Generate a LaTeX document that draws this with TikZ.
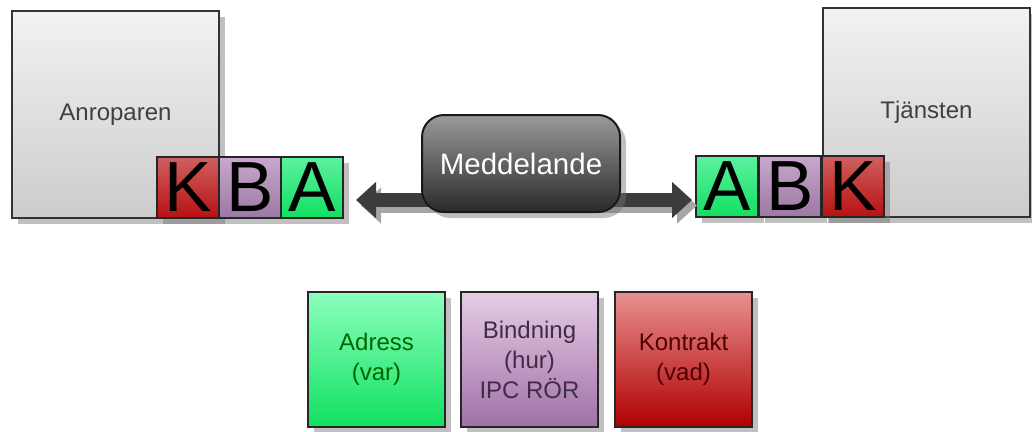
\documentclass[tikz,border=0pt]{standalone}
\usepackage{fontspec}
\setmainfont{Liberation Sans}
\usetikzlibrary{arrows.meta,shadows}
\definecolor{grnT}{HTML}{8CFFBE}
\definecolor{grnB}{HTML}{10E060}
\definecolor{purT}{HTML}{E6CDE6}
\definecolor{purB}{HTML}{A070A8}
\definecolor{redT}{HTML}{E89090}
\definecolor{redB}{HTML}{B00000}
\definecolor{lgrnT}{HTML}{5EF0A0}
\definecolor{lpurT}{HTML}{C8A8CC}
\definecolor{lpurB}{HTML}{9C78A4}
\definecolor{lredT}{HTML}{D06060}
\definecolor{lredB}{HTML}{B81010}
\definecolor{msgT}{HTML}{9A9A9A}
\definecolor{msgB}{HTML}{2A2A2A}
\definecolor{arrc}{HTML}{3C3C3C}
\begin{document}
\begin{tikzpicture}[x=1pt,y=-1pt,
  shad/.style={drop shadow={shadow xshift=6pt,shadow yshift=-6pt,opacity=0.45,fill=black!55}},
  bigbox/.style={shad,draw=black!80,line width=2.5pt,top color=black!5,bottom color=black!20,
    minimum width=207pt,minimum height=207pt,inner sep=0pt,
    font=\fontsize{24}{28}\selectfont,text=black!75},
  letterbox/.style={shad,draw=black!85,line width=2pt,minimum width=62pt,minimum height=61pt,
    inner sep=0pt,font=\fontsize{71}{71}\selectfont,text=black},
  lgreen/.style={letterbox,top color=lgrnT,bottom color=grnB},
  lpurple/.style={letterbox,top color=lpurT,bottom color=lpurB},
  lred/.style={letterbox,top color=lredT,bottom color=lredB},
  keybox/.style={shad,draw=black!85,line width=2.5pt,minimum width=137pt,minimum height=135pt,
    inner sep=0pt,align=center,font=\fontsize{24}{30}\selectfont},
  msgbox/.style={shad,draw=black!90,line width=2pt,rounded corners=22pt,top color=msgT,bottom color=msgB,
    minimum width=198pt,minimum height=97pt,font=\fontsize{29.5}{32}\selectfont,text=white},
  arrowline/.style={draw=arrc,line width=14pt,{Triangle[width=35pt,length=20pt]}-{Triangle[width=35pt,length=20pt]}},
  arrowshadow/.style={arrowline,draw=black!35}
]
\useasboundingbox (0,0) rectangle (1032,431);
% big boxes
\node[bigbox] (anr) at (115.5,114.5) {Anroparen};
\node[bigbox,minimum height=209pt] (tj) at (926.5,112.5) {Tjänsten};
% left letter boxes
\node[lred] (lK) at (188,187.5) {K};
\node[lpurple] (lB) at (250,187.5) {B};
\node[lgreen] (lA) at (312,187.5) {A};
% right letter boxes
\node[lgreen] (rA) at (727,186.5) {A};
\node[lpurple] (rB) at (790,186.5) {B};
\node[lred] (rK) at (853,186.5) {K};
% arrow
\draw[arrowshadow,shorten <=12pt,shorten >=3pt] ([xshift=5pt,yshift=-18pt]lA.east) -- ([xshift=5pt,yshift=-19pt]rA.west);
\draw[arrowline,shorten <=12pt,shorten >=3pt] ([yshift=-12.5pt]lA.east) -- ([yshift=-13.5pt]rA.west);
% message
\node[msgbox] (msg) at (521,163.5) {Meddelande};
% legend boxes
\node[keybox,top color=grnT,bottom color=grnB,text=green!40!black] (adr) at (376.5,359.5) {Adress\\(var)};
\node[keybox,top color=purT,bottom color=purB,text=purB!40!black] (bind) at (529.5,359.5) {Bindning\\(hur)\\IPC RÖR};
\node[keybox,top color=redT,bottom color=redB,text=redB!45!black] (kon) at (683.5,359.5) {Kontrakt\\(vad)};
\end{tikzpicture}
\end{document}
